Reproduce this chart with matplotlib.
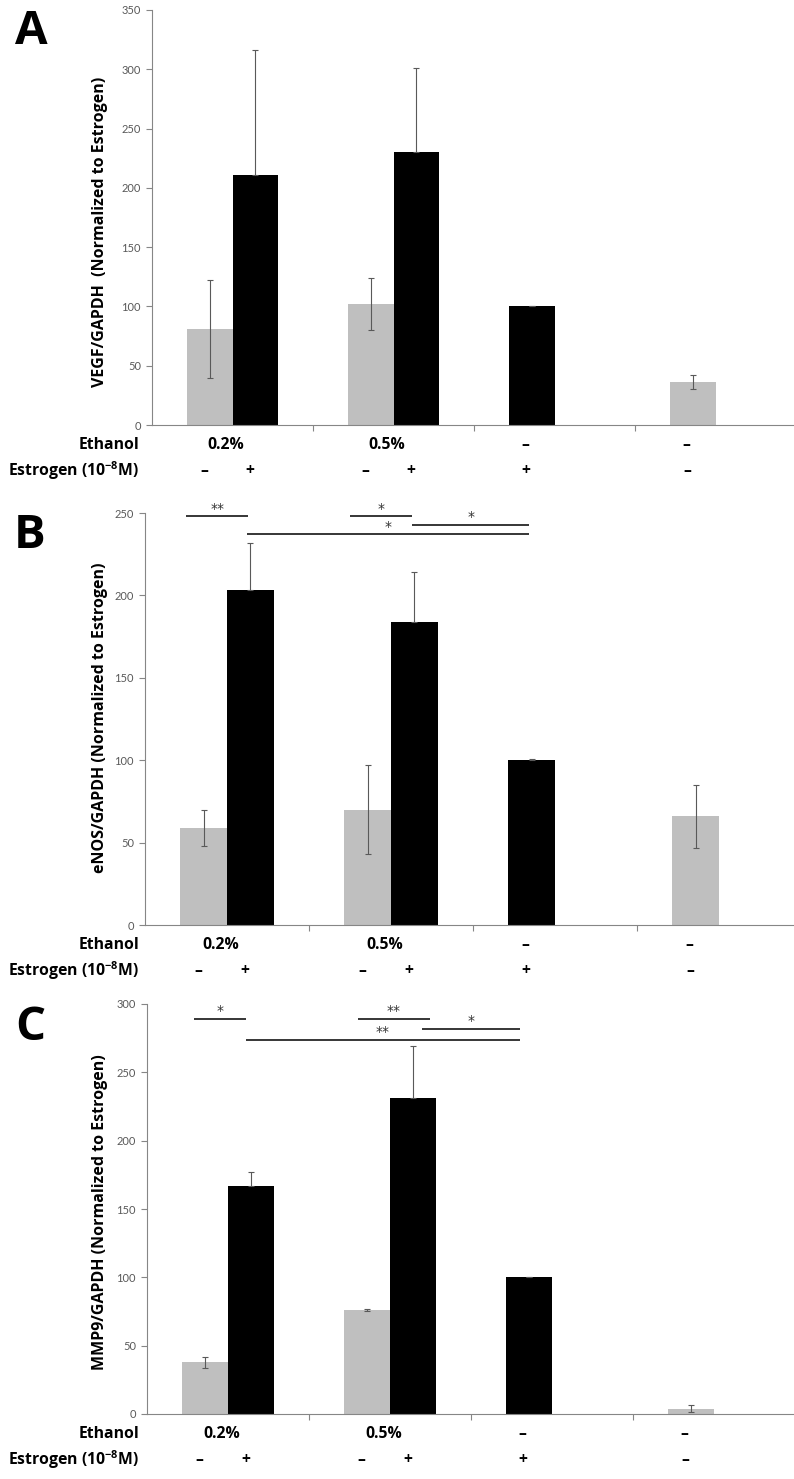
import matplotlib
matplotlib.use("Agg")
import matplotlib.pyplot as plt
from matplotlib.transforms import offset_copy

plt.rcParams['font.family'] = ['Lato', 'DejaVu Sans']
plt.rcParams['mathtext.fontset'] = 'custom'
plt.rcParams['mathtext.rm'] = 'Open Sans:bold'
plt.rcParams['mathtext.bf'] = 'Open Sans:bold'
plt.rcParams['mathtext.default'] = 'rm'

BOLD = ['Open Sans', 'DejaVu Sans']

# ---- data ----
ethanol_labels = ['0.2%', '0.5%', '\u2013', '\u2013']
bar_cat = [0, 0, 1, 1, 2, 3]          # category of each bar
bar_slot = [0, 1, 0, 1, 0, 0]         # 0 = left slot, 1 = right slot
bar_color = ['#bfbfbf', '#000000', '#bfbfbf', '#000000', '#000000', '#bfbfbf']
estrogen_labels = ['\u2013', '+', '\u2013', '+', '+', '\u2013']

vegf = [81, 211, 102, 230, 100, 36]
vegf_err = [41, 105, 22, 71, 0.5, 6]

enos = [59, 203, 70, 184, 100, 66]
enos_err = [11, 29, 27, 30, 0.5, 19]

mmp9 = [38, 167, 76, 231, 100, 4]
mmp9_err = [4, 10, 0.5, 38, 0.5, 2.5]

# significance bars: (label, x0, x1, y)
sig_b = [('**', -0.25, 0.13, 248), ('*', 0.75, 1.13, 248),
         ('*', 1.13, 1.84, 243), ('*', 0.12, 1.84, 237)]
sig_c = [('*', -0.21, 0.11, 289), ('**', 0.80, 1.25, 289),
         ('*', 1.20, 1.80, 282), ('**', 0.11, 1.80, 274)]

W, H = 794, 1479
BW = 0.285
GRAY = '#595959'
FS = 11.3

fig = plt.figure(figsize=(W / 100, H / 100), dpi=100)


def make_panel(letter, rect, ylim, ystep, xright, values, errs, ylabel,
               ylabel_y, letter_xy, sigs):
    left, top, bottom = rect
    ax = fig.add_axes([left / W, 1 - bottom / H, (W - left) / W,
                       (bottom - top) / H])
    xs = [c + (s - 0.5) * BW for c, s in zip(bar_cat, bar_slot)]
    lower = [e if col != '#000000' else 0 for e, col in zip(errs, bar_color)]
    ax.bar(xs, values, width=BW, color=bar_color, zorder=2)
    ax.errorbar(xs, values, yerr=[lower, errs], fmt='none', ecolor=GRAY,
                elinewidth=0.8, capsize=2.5, capthick=0.8, zorder=3)
    ax.set_xlim(-0.5, xright)
    ax.set_ylim(*ylim)
    ax.set_yticks(range(0, ylim[1] + 1, ystep))
    ax.set_xticks([0.5, 1.5, 2.5])
    ax.set_xticklabels([])
    for sp in ['top', 'right']:
        ax.spines[sp].set_visible(False)
    for sp in ['left', 'bottom']:
        ax.spines[sp].set_color('#868686')
        ax.spines[sp].set_linewidth(0.8)
    ax.tick_params(axis='y', colors='#868686', labelcolor=GRAY, labelsize=8,
                   length=4, width=0.8, pad=4)
    ax.tick_params(axis='x', colors='#868686', length=4, width=0.8)

    # significance brackets
    for lab, x0, x1, y in sigs:
        ax.plot([x0, x1], [y, y], color='black', lw=1.1, clip_on=False,
                solid_capstyle='butt', zorder=4)
        ax.annotate(lab, ((x0 + x1) / 2, y), xytext=(0, 0.5),
                    textcoords='offset points', ha='center', va='bottom',
                    fontsize=10, color='#333333', family='DejaVu Sans')

    # row labels under the axis
    tr = ax.get_xaxis_transform()
    tr_eth = offset_copy(tr, fig=fig, y=-20, units='dots')
    tr_est = offset_copy(tr, fig=fig, y=-46, units='dots')
    eth_x = [0, 1, 2 - BW / 2, 3 - BW / 2]
    for x, lab in zip(eth_x, ethanol_labels):
        ax.text(x - 0.04, 0, lab, transform=tr_eth, ha='center', va='center',
                fontsize=FS, fontweight='bold', family=BOLD)
    for x, lab in zip(xs, estrogen_labels):
        ax.text(x - 0.035, 0, lab, transform=tr_est, ha='center', va='center',
                fontsize=FS, fontweight='bold', family=BOLD)

    y_eth = bottom + 20
    y_est = bottom + 46
    fig.text(139 / W, 1 - y_eth / H, 'Ethanol', ha='right', va='center',
             fontsize=FS, fontweight='bold', family=BOLD)
    fig.text(139 / W, 1 - y_est / H, r'Estrogen (10$^{-8}$M)', ha='right',
             va='center', fontsize=FS, fontweight='bold', family=BOLD)

    fig.text(100 / W, 1 - ylabel_y / H, ylabel, rotation=90, ha='center',
             va='center', fontsize=11.5, fontweight='bold', family=BOLD)
    fig.text(letter_xy[0] / W, 1 - letter_xy[1] / H, letter, ha='center',
             va='center', fontsize=34, fontweight='bold', family=BOLD)
    return ax


make_panel('A', (152, 10, 425), (0, 350), 50, 3.487, vegf, vegf_err,
           'VEGF/GAPDH  (Normalized to Estrogen)', 232, (31, 31), [])
make_panel('B', (145, 513, 925), (0, 250), 50, 3.457, enos, enos_err,
           'eNOS/GAPDH (Normalized to Estrogen)', 718, (30, 535), sig_b)
make_panel('C', (147, 1004, 1414), (0, 300), 50, 3.494, mmp9, mmp9_err,
           'MMP9/GAPDH (Normalized to Estrogen)', 1212, (30, 1028), sig_c)

fig.savefig('out.png', dpi=100)
